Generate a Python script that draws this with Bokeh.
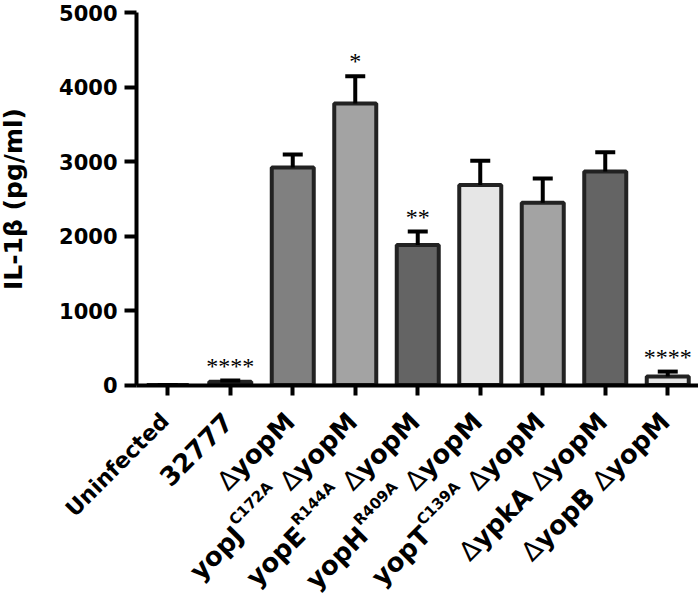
import math
from bokeh.plotting import figure
from bokeh.models import (Range1d, FixedTicker, Label, LabelSet, ColumnDataSource,
                          Whisker, TeeHead)
from bokeh.embed import file_html
from bokeh.resources import INLINE

# ---------------- data ----------------
categories = ["Uninfected", "32777", "ΔyopM", "yopJC172A ΔyopM", "yopER144A ΔyopM",
              "yopHR409A ΔyopM", "yopTC139A ΔyopM", "ΔypkA ΔyopM", "ΔyopB ΔyopM"]
label_prefix = ["", "", "", "yopJ", "yopE", "yopH", "yopT", "ΔypkA", "ΔyopB"]
label_sup = ["", "", "", "C172A", "R144A", "R409A", "C139A", "", ""]
label_main = ["Uninfected", "32777", "ΔyopM", "ΔyopM", "ΔyopM", "ΔyopM", "ΔyopM", "ΔyopM", "ΔyopM"]
means = [0, 45, 2920, 3780, 1880, 2685, 2445, 2865, 115]
sems = [0, 15, 175, 364, 180, 326, 326, 258, 65]
stars = ["", "****", "", "*", "**", "", "", "", "****"]
fills = ["#ffffff", "#404040", "#808080", "#a3a3a3", "#646464", "#e6e6e6", "#a3a3a3", "#646464", "#e6e6e6"]
y_ticks = [0, 1000, 2000, 3000, 4000, 5000]
y_label = "IL-1β (pg/ml)"

# ---------------- helpers ----------------
FONT = "DejaVu Sans"
BOLD_W = {' ': 713, 'A': 1585, 'B': 1561, 'C': 1499, 'E': 1399, 'H': 1716, 'J': 770,
          'M': 2036, 'R': 1577, 'T': 1405, 'U': 1663, 'c': 1212, 'd': 1466, 'e': 1389,
          'f': 891, 'i': 702, 'k': 1362, 'n': 1458, 'o': 1407, 'p': 1466, 't': 979,
          'y': 1335}
DIGIT_W = 1425
DELTA_W = 1401


def text_width(s, size):
    w = 0
    for ch in s:
        if ch == 'Δ':
            w += DELTA_W
        elif ch.isdigit():
            w += DIGIT_W
        else:
            w += BOLD_W.get(ch, 1300)
    return w / 2048.0 * size


def runs(s):
    out, cur = [], ""
    for ch in s:
        if ch == 'Δ':
            if cur:
                out.append((cur, "bold"))
                cur = ""
            out.append((ch, "normal"))
        else:
            cur += ch
    if cur:
        out.append((cur, "bold"))
    return out


x_pos = [i + 0.5 for i in range(len(categories))]
uppers = [m + s for m, s in zip(means, sems)]

# ---------------- geometry (frame covers the whole figure) ----------------
W, H = 698, 598
AXIS_X_PX = 136.0
PX_PER_CAT = 62.5
TOP_PX, ZERO_PX = 12.0, 384.5
ymax = max(y_ticks)
ppu = (ZERO_PX - TOP_PX) / ymax
x_start = -AXIS_X_PX / PX_PER_CAT
x_end = (W - AXIS_X_PX) / PX_PER_CAT
y_end = ymax + TOP_PX / ppu
y_start = -(H - ZERO_PX) / ppu

src = ColumnDataSource(dict(x=x_pos, top=means, upper=uppers, fill=fills))

p = figure(width=W, height=H, output_backend="svg", toolbar_location=None,
           x_range=Range1d(x_start, x_end), y_range=Range1d(y_start, y_end),
           min_border_left=0, min_border_right=0, min_border_top=0, min_border_bottom=0)
p.outline_line_color = None
p.xgrid.grid_line_color = None
p.ygrid.grid_line_color = None
p.background_fill_color = "white"
p.border_fill_color = "white"

p.vbar(x="x", top="top", bottom=0, width=0.672, fill_color="fill",
       line_color="#222222", line_width=4, source=src)

wh = Whisker(source=src, base="x", lower="top", upper="upper", dimension="height",
             line_width=4, line_color="black",
             upper_head=TeeHead(size=20, line_width=4, line_color="black"),
             lower_head=None, level="annotation")
p.add_layout(wh)

star_src = ColumnDataSource(dict(x=[x for x, s in zip(x_pos, stars) if s],
                                 y=[u for u, s in zip(uppers, stars) if s],
                                 t=[s for s in stars if s]))
p.add_layout(LabelSet(x="x", y="y", text="t", source=star_src, y_offset=7,
                      text_align="center", text_baseline="alphabetic",
                      text_font=FONT, text_font_size="24px", text_color="black"))

# axes
p.yaxis.ticker = FixedTicker(ticks=y_ticks)
p.yaxis.bounds = (0, ymax)
p.yaxis.fixed_location = 0
p.yaxis.axis_label = y_label
p.yaxis.axis_label_text_font = FONT
p.yaxis.axis_label_text_font_size = "25px"
p.yaxis.axis_label_text_font_style = "bold"
p.yaxis.axis_label_text_color = "black"
p.yaxis.axis_label_standoff = 28
p.yaxis.major_label_text_font = FONT
p.yaxis.major_label_text_font_size = "21px"
p.yaxis.major_label_text_font_style = "bold"
p.yaxis.major_label_text_color = "black"
p.yaxis.major_label_standoff = 7

p.xaxis.ticker = FixedTicker(ticks=x_pos)
p.xaxis.major_label_overrides = {x: "" for x in x_pos}
p.xaxis.fixed_location = 0
p.xaxis.bounds = (0, x_end)

for ax in (p.xaxis, p.yaxis):
    ax.axis_line_width = 4
    ax.axis_line_color = "black"
    ax.major_tick_line_width = 4
    ax.major_tick_line_color = "black"
    ax.major_tick_in = 0
    ax.minor_tick_line_color = None
p.yaxis.major_tick_out = 12
p.xaxis.major_tick_out = 10

# rotated category labels built from text runs
C = math.cos(math.pi / 4)
MAIN_SIZE = 26
SMALL_MAIN = {"Uninfected": 22}
SUP_SIZE = 15
SUP_RAISE = 11
BX, BY = -2.6, -32.0


def place(xc, text, d, size, weight, raise_px):
    lab = Label(x=xc, y=0, x_offset=BX - C * d - C * raise_px,
                y_offset=BY - C * d + C * raise_px, text=text, angle=math.pi / 4,
                text_align="right", text_baseline="alphabetic", text_font=FONT,
                text_font_size=f"{size}px", text_font_style=weight, text_color="black")
    p.add_layout(lab)


for xc, pre, sup, main in zip(x_pos, label_prefix, label_sup, label_main):
    d = 0.0
    size = SMALL_MAIN.get(main, MAIN_SIZE)
    for t, wgt in reversed(runs(main)):
        place(xc, t, d, size, wgt, 0)
        d += text_width(t, size)
    if pre:
        d += text_width(" ", size)
        if sup:
            place(xc, sup, d, SUP_SIZE, "bold", SUP_RAISE)
            d += text_width(sup, SUP_SIZE) + 1
        for t, wgt in reversed(runs(pre)):
            place(xc, t, d, size, wgt, 0)
            d += text_width(t, size)

open("out.html", "w").write(file_html(p, INLINE))
